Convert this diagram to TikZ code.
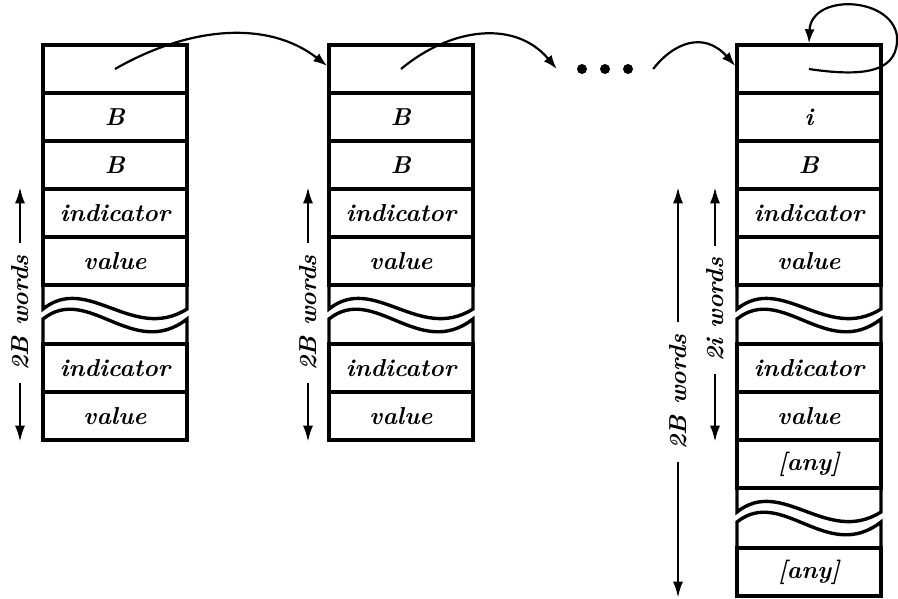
\documentclass[tikz,border=0pt]{standalone}
\usepackage{fontspec}
\usetikzlibrary{arrows.meta}
\newcommand\cellfont{\fontsize{24.5}{27}\selectfont\bfseries\itshape}
% broken-off part of a block: #1 left edge, #2 bottom of the row above, #3 top of the row below
\newcommand\wavecut[3]{%
  \draw[blk] (#1,#2) -- (#1,#2+24) .. controls (#1+45,#2-12) and (#1+90,#2+58) .. (#1+144,#2+24) -- (#1+144,#2);
  \draw[blk] (#1,#3) -- (#1,#2+34) .. controls (#1+45,#2-2) and (#1+90,#2+76) .. (#1+144,#2+34) -- (#1+144,#3);
}
\begin{document}
\begin{tikzpicture}[x=1pt,y=-1pt,
  blk/.style={line width=3.4pt},
  cell/.style={draw, line width=3.4pt, minimum width=144pt, minimum height=48pt,
               inner sep=0pt, font=\cellfont},
  lab/.style={rotate=90, font=\cellfont, inner xsep=12pt, inner ysep=0pt},
  link/.style={line width=2.2pt, -{Latex[length=14pt,width=10pt]}},
  varr/.style={line width=2.2pt, -{Latex[length=16pt,width=10pt]}},
  dot/.style={circle, fill=black, inner sep=0pt, minimum size=10pt}]
\useasboundingbox (0,0) rectangle (898,598);

% first block
\node[cell] (b1p) at (115,69) {};
\node[cell] (b1r2) at (115,117) {B};
\node[cell] (b1r3) at (115,165) {B};
\node[cell] (b1r4) at (115,213) {indicator};
\node[cell] (b1r5) at (115,261) {value};
\wavecut{43}{285}{344}
\node[cell] (b1r6) at (115,368) {indicator};
\node[cell] (b1r7) at (115,416) {value};

% second block
\node[cell] (b2p) at (401,69) {};
\node[cell] (b2r2) at (401,117) {B};
\node[cell] (b2r3) at (401,165) {B};
\node[cell] (b2r4) at (401,213) {indicator};
\node[cell] (b2r5) at (401,261) {value};
\wavecut{329}{285}{344}
\node[cell] (b2r6) at (401,368) {indicator};
\node[cell] (b2r7) at (401,416) {value};

% last block
\node[cell] (b3p) at (809,69) {};
\node[cell] (b3r2) at (809,117) {i};
\node[cell] (b3r3) at (809,165) {B};
\node[cell] (b3r4) at (809,213) {indicator};
\node[cell] (b3r5) at (809,261) {value};
\wavecut{737}{285}{344}
\node[cell] (b3r6) at (809,368) {indicator};
\node[cell] (b3r7) at (809,416) {value};
\node[cell] (b3r8) at (809,464) {[any]};
\wavecut{737}{488}{548}
\node[cell] (b3r9) at (809,572) {[any]};

% ellipsis between the blocks
\node[dot] (d1) at (582,69) {};
\node[dot] (d2) at (605,69) {};
\node[dot] (d3) at (628,69) {};

% size labels
\node[lab] (w1) at (20,313) {2B words};
\draw[varr] (w1.east) -- (w1.east |- b1r4.north);
\draw[varr] (w1.west) -- (w1.west |- b1r7.south);
\node[lab] (w2) at (308,313) {2B words};
\draw[varr] (w2.east) -- (w2.east |- b2r4.north);
\draw[varr] (w2.west) -- (w2.west |- b2r7.south);
\node[lab] (w3) at (678,392) {2B words};
\draw[varr] (w3.east) -- (w3.east |- b3r4.north);
\draw[varr] (w3.west) -- (w3.west |- b3r9.south);
\node[lab] (w4) at (715,310) {2i words};
\draw[varr] (w4.east) -- (w4.east |- b3r4.north);
\draw[varr] (w4.west) -- (w4.west |- b3r7.south);

% chain pointers
\draw[link] (b1p.center) .. controls +(75,-43) and +(-59,-46) .. ([yshift=3pt]b2p.west);
\draw[link] (b2p.center) .. controls +(49,-41) and +(-42,-50) .. ([xshift=-20pt]d1.west);
\draw[link] ([xshift=20pt]d3.east) .. controls +(19,-25) and +(-32,-36) .. ([yshift=3pt]b3p.west);
\coordinate (turn) at (897,36);
\draw[line width=2.2pt] (b3p.center) .. controls +(60,9) and +(2,34) .. (turn);
\draw[link] (turn) .. controls +(-6,-40) and +(2,-50) .. (b3p.north);
\end{tikzpicture}
\end{document}
